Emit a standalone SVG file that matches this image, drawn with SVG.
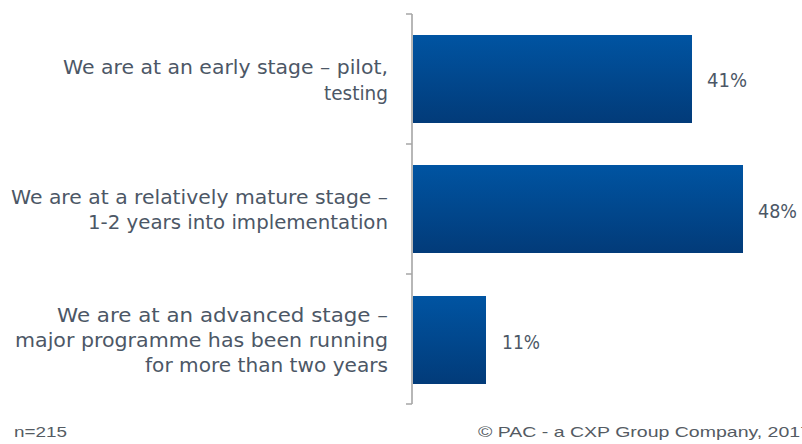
<svg xmlns="http://www.w3.org/2000/svg" width="802" height="444" viewBox="0 0 802 444">
<defs>
<linearGradient id="barGrad" x1="0" y1="0" x2="0" y2="1">
<stop offset="0" stop-color="#0054a2"/>
<stop offset="1" stop-color="#023b79"/>
</linearGradient>
<style>
.lbl{font-family:"DejaVu Sans","Liberation Sans",sans-serif;font-size:19px;fill:#4c5766;text-anchor:end}
.pct{font-family:"DejaVu Sans","Liberation Sans",sans-serif;font-size:19px;fill:#4c5766}
.foot{font-family:"Liberation Sans",Arial,sans-serif;font-size:15px;fill:#545b63}
.bar{fill:url(#barGrad)}
.axis{stroke:#a6a6a6;stroke-width:1.6;fill:none}
</style>
</defs>
<rect width="802" height="444" fill="#ffffff"/>
<g id="axis">
<path class="axis" d="M412,14V404M406,14H412M406,144H412M406,274H412M406,404H412"/>
</g>
<g id="row1">
<rect class="bar" x="413" y="35" width="279" height="88"/>
<text class="lbl" x="388" y="74" textLength="325" lengthAdjust="spacingAndGlyphs">We are at an early stage – pilot,</text>
<text class="lbl" x="388" y="100" textLength="64" lengthAdjust="spacingAndGlyphs">testing</text>
<text class="pct" x="707" y="87" textLength="40" lengthAdjust="spacingAndGlyphs">41%</text>
</g>
<g id="row2">
<rect class="bar" x="413" y="165" width="330" height="88"/>
<text class="lbl" x="388" y="204" textLength="377" lengthAdjust="spacingAndGlyphs">We are at a relatively mature stage –</text>
<text class="lbl" x="388" y="229" textLength="300" lengthAdjust="spacingAndGlyphs">1-2 years into implementation</text>
<text class="pct" x="758" y="218" textLength="39" lengthAdjust="spacingAndGlyphs">48%</text>
</g>
<g id="row3">
<rect class="bar" x="413" y="296" width="73" height="88"/>
<text class="lbl" x="388" y="322" textLength="331" lengthAdjust="spacingAndGlyphs">We are at an advanced stage –</text>
<text class="lbl" x="388" y="347" textLength="373" lengthAdjust="spacingAndGlyphs">major programme has been running</text>
<text class="lbl" x="388" y="372" textLength="243" lengthAdjust="spacingAndGlyphs">for more than two years</text>
<text class="pct" x="502" y="349" textLength="38" lengthAdjust="spacingAndGlyphs">11%</text>
</g>
<g id="footer">
<text class="foot" x="14" y="437" textLength="53" lengthAdjust="spacingAndGlyphs">n=215</text>
<text class="foot" x="478" y="437" textLength="333" lengthAdjust="spacingAndGlyphs">© PAC - a CXP Group Company, 2017</text>
</g>
</svg>
